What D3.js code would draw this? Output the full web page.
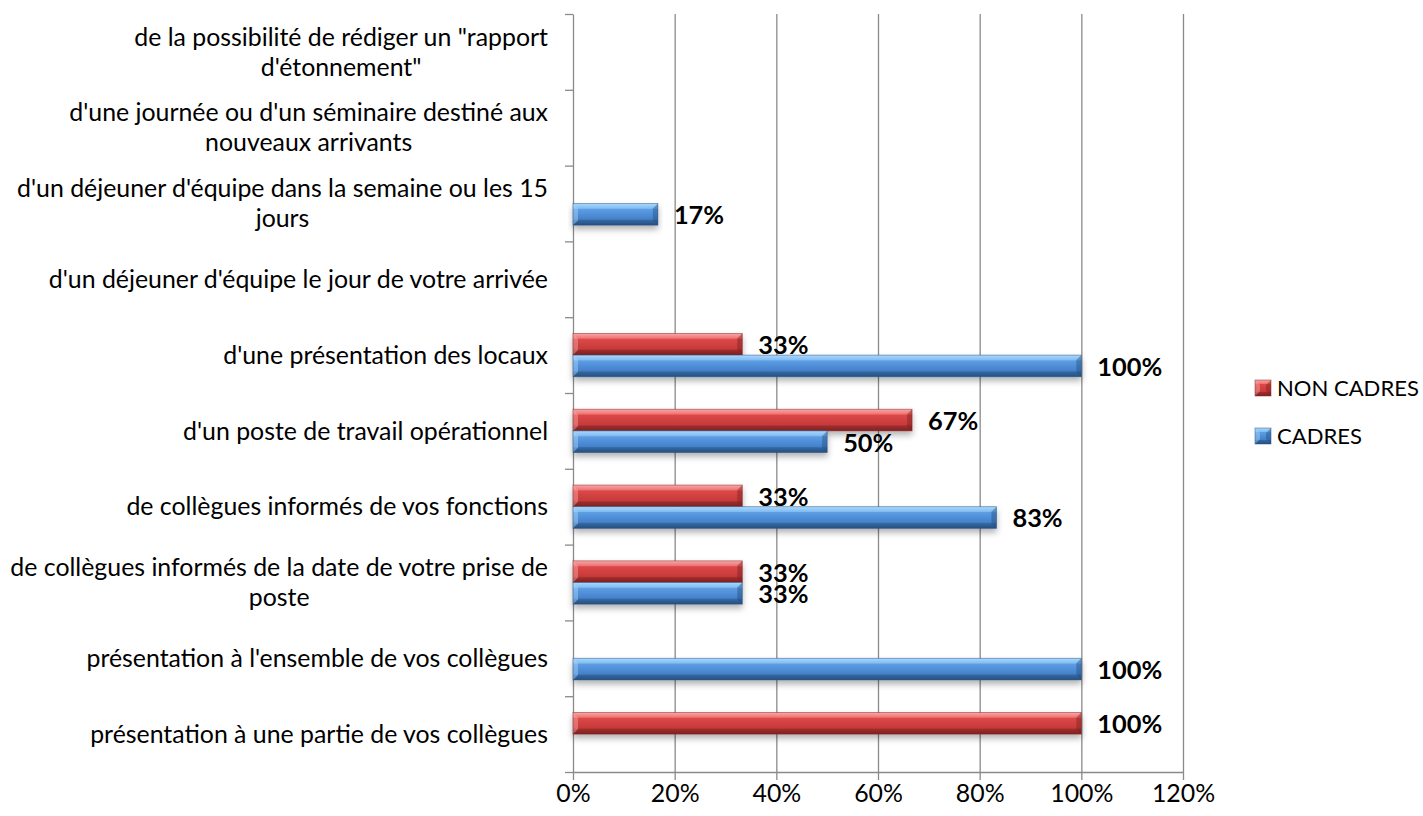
<!DOCTYPE html>
<html>
<head>
<meta charset="utf-8">
<script src="https://cdn.jsdelivr.net/npm/d3@7"></script>
<style>
  body { margin: 0; background: #fff; }
  svg { display: block; font-family: Lato, 'Open Sans', sans-serif; }
  .grid line { stroke: #8a8a8a; stroke-width: 1.3; }
  .grid .domain { display: none; }
  .axis line, .axis path { stroke: #8a8a8a; stroke-width: 1.3; }
</style>
</head>
<body>
<svg width="1423" height="816"></svg>
<script>
// categories, first one sits at the bottom (Excel order)
const categories = [
    'présentation à une partie de vos collègues',
    "présentation à l'ensemble de vos collègues",
    'de collègues informés de la date de votre prise de\nposte',
    'de collègues informés de vos fonctions',
    "d'un poste de travail opérationnel",
    "d'une présentation des locaux",
    "d'un déjeuner d'équipe le jour de votre arrivée",
    "d'un déjeuner d'équipe dans la semaine ou les 15\njours",
    "d'une journée ou d'un séminaire destiné aux\nnouveaux arrivants",
    'de la possibilité de rédiger un "rapport\nd\'étonnement"'
];
const seriesNames = ['NON CADRES', 'CADRES'];
const nonCadres = [1, 0, 0.333, 0.333, 0.667, 0.333, 0, 0, 0, 0];
const cadres = [0, 1, 0.333, 0.833, 0.5, 1, 0, 0.167, 0, 0];
const xTicks = [0, 0.2, 0.4, 0.6, 0.8, 1, 1.2];

const svg = d3.select('svg');
const FONT = "Lato, 'Open Sans', sans-serif";

const margin = { top: 14, right: 240, bottom: 44, left: 573 };
const width = +svg.attr('width');
const height = +svg.attr('height');
const innerWidth = 1183 - margin.left;
const innerHeight = height - margin.top - margin.bottom;

const palette = {
    'NON CADRES': { light: '#f9a8a8', top: '#f07474', mid: '#dc4848', low: '#c63a3a', dark: '#9e2c2c', edge: '#7e2222' },
    'CADRES': { light: '#aad8fd', top: '#82bdf3', mid: '#5c9de3', low: '#4581cb', dark: '#33679f', edge: '#264f80' }
};

// measure a string at 100px and return the size that gives the wanted width
const fitSize = (text, target, weight) => {
    const t = svg.append('text')
        .style('font-family', FONT)
        .style('font-weight', weight)
        .style('font-size', '100px')
        .text(text);
    const w = t.node().getComputedTextLength();
    t.remove();
    return 100 * target / w;
};

const labelSize = fitSize('présentation à une partie de vos collègues', 458, 400);
const valueSize = fitSize('100%', 65, 700);
const legendSize = fitSize('NON CADRES', 142, 400);

const defs = svg.append('defs');

const addGradients = () => {
    seriesNames.forEach((s, i) => {
        const c = palette[s];
        const grad = defs.append('linearGradient')
            .attr('id', `grad${i}`)
            .attr('x1', 0).attr('y1', 0).attr('x2', 0).attr('y2', 1);
        [[0, c.light], [0.22, c.top], [0.27, c.mid], [0.72, c.low], [0.78, c.dark], [1, c.edge]]
            .forEach(([o, col]) => grad.append('stop').attr('offset', o).attr('stop-color', col));
    });

    const f = defs.append('filter').attr('id', 'shadow')
        .attr('x', '-5%').attr('y', '-30%').attr('width', '110%').attr('height', '190%');
    f.append('feDropShadow')
        .attr('dx', 0).attr('dy', 4)
        .attr('stdDeviation', 3)
        .attr('flood-color', '#000')
        .attr('flood-opacity', 0.3);
};

// bevelled bar drawn inside a group: face + end facets
const drawBevel = (sel, w, h, i) => {
    const c = palette[seriesNames[i]];
    const b = Math.min(5, w / 2);
    sel.append('rect')
        .attr('width', w).attr('height', h)
        .attr('fill', `url(#grad${i})`);
    sel.append('polygon')
        .attr('points', `0,0 ${b},${b} ${b},${h - b} 0,${h}`)
        .attr('fill', c.light).attr('opacity', 0.45);
    sel.append('polygon')
        .attr('points', `${w},0 ${w - b},${b} ${w - b},${h - b} ${w},${h}`)
        .attr('fill', c.edge).attr('opacity', 0.45);
    sel.append('rect')
        .attr('width', w).attr('height', h)
        .attr('fill', 'none')
        .attr('stroke', c.edge).attr('stroke-width', 0.8).attr('opacity', 0.6);
};

const render = () => {
    addGradients();

    const g = svg.append('g')
        .attr('transform', `translate(${margin.left},${margin.top})`);

    const xScale = d3.scaleLinear().domain([0, 1.2]).range([0, innerWidth]);
    const yScale = d3.scaleBand().domain(categories).range([innerHeight, 0]);
    const ySub = d3.scaleBand().domain(seriesNames)
        .range([0, yScale.bandwidth()])
        .paddingInner(0).paddingOuter(0.75);
    const yIndex = d3.scaleLinear().domain([0, categories.length]).range([innerHeight, 0]);

    // vertical gridlines
    g.append('g').attr('class', 'grid')
        .call(d3.axisBottom(xScale).tickValues(xTicks.slice(1)).tickSize(innerHeight).tickFormat(''));

    // left axis, ticks between categories
    g.append('g').attr('class', 'axis')
        .call(d3.axisLeft(yIndex).tickValues(d3.range(categories.length + 1)).tickSize(8).tickSizeOuter(0).tickFormat(''));

    // bottom axis
    const xAxisG = g.append('g').attr('class', 'axis')
        .attr('transform', `translate(0,${innerHeight})`)
        .call(d3.axisBottom(xScale).tickValues(xTicks).tickSize(8).tickSizeOuter(0).tickFormat(d3.format('.0%')));
    xAxisG.selectAll('text')
        .attr('y', 21).attr('dy', '0.35em')
        .style('font-family', FONT)
        .style('font-size', `${labelSize}px`)
        .attr('fill', '#000');

    // category labels, wrapped lines centred, block right-aligned
    const labelRight = -25;
    const lineH = 30;
    categories.forEach(cat => {
        const lines = cat.split('\n');
        const cy = yScale(cat) + yScale.bandwidth() / 2;
        const t = g.append('text')
            .style('font-family', FONT)
            .style('font-size', `${labelSize}px`)
            .attr('fill', '#000')
            .attr('text-anchor', 'middle');
        const spans = lines.map((line, k) => t.append('tspan')
            .attr('y', cy + (k - (lines.length - 1) / 2) * lineH)
            .attr('dy', '0.35em')
            .text(line));
        const maxW = d3.max(spans, s => s.node().getComputedTextLength());
        spans.forEach(s => s.attr('x', labelRight - maxW / 2));
    });

    // bars
    const series = [nonCadres, cadres];
    series.forEach((values, i) => {
        values.forEach((v, j) => {
            if (!v) return;
            const cat = categories[j];
            const y0 = yScale(cat) + ySub(seriesNames[i]);
            const h = ySub.bandwidth();
            const w = xScale(v) - xScale(0);
            const bar = g.append('g')
                .attr('transform', `translate(${xScale(0)},${y0})`)
                .attr('filter', 'url(#shadow)');
            drawBevel(bar, w, h, i);
        });
    });

    // value labels on top of everything
    series.forEach((values, i) => {
        values.forEach((v, j) => {
            if (!v) return;
            const cat = categories[j];
            g.append('text')
                .attr('x', xScale(v) + 16)
                .attr('y', yScale(cat) + ySub(seriesNames[i]) + ySub.bandwidth() / 2 + 1)
                .attr('dy', '0.35em')
                .style('font-family', FONT)
                .style('font-weight', 700)
                .style('font-size', `${valueSize}px`)
                .attr('fill', '#000')
                .text(d3.format('.0%')(v));
        });
    });

    addLegend();
};

const addLegend = () => {
    const legend = svg.append('g').attr('transform', 'translate(1255,380)');
    seriesNames.forEach((s, i) => {
        const item = legend.append('g').attr('transform', `translate(0,${i * 48})`);
        drawBevel(item, 16, 16, i);
        item.append('text')
            .attr('x', 22).attr('y', 8).attr('dy', '0.35em')
            .style('font-family', FONT)
            .style('font-size', `${legendSize}px`)
            .attr('fill', '#000')
            .text(s);
    });
};

render();
</script>
</body>
</html>
